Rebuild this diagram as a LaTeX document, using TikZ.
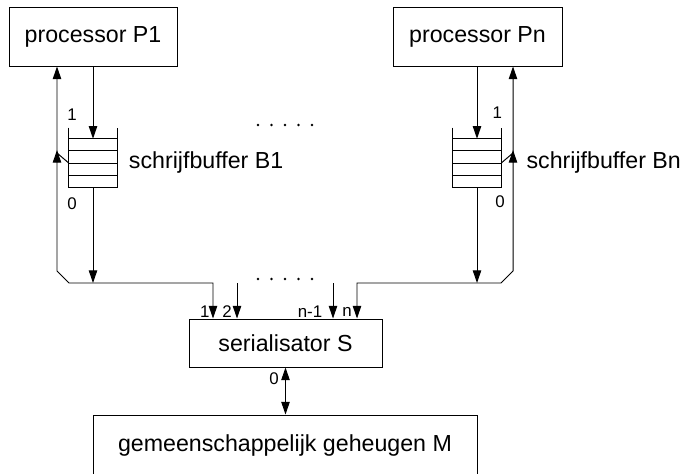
\documentclass[tikz,border=0pt]{standalone}
\usepackage{fontspec}
\setmainfont{Liberation Sans}
\usepackage{tikz}
\usetikzlibrary{calc,arrows.meta}
\usetikzlibrary{positioning}

\begin{document}
\begin{tikzpicture}[
    >={Triangle[length=9pt,width=6pt]},
    box/.style={draw, line width=0.7pt, align=center,
                font=\fontsize{16.5}{19}\selectfont, inner sep=0pt},
    fifo/.style={minimum width=1.2cm, minimum height=1.2cm, inner sep=0pt},
    conn/.style={->, line width=0.7pt},
    wire/.style={line width=0.7pt},
    num/.style={font=\fontsize{12}{14}\selectfont, inner sep=0pt},
    txt/.style={font=\fontsize{16.5}{19}\selectfont, inner sep=1pt, anchor=west}
]
\useasboundingbox (0,0) rectangle (17.15, 11.825);

% =========================================================================
% PROCESSOREN
% =========================================================================
\node[box, minimum width=4.2cm, minimum height=1.475cm] (p1) at (2.325, 10.9125) {processor P1};
\node[box, minimum width=4.225cm, minimum height=1.475cm] (pn) at (11.9375, 10.9125) {processor Pn};

% =========================================================================
% SCHRIJFBUFFERS
% =========================================================================
\node[fifo] (buf1) at (2.325, 7.75) {};
\node[fifo] (bufn) at (11.925, 7.75) {};

\foreach \b in {buf1, bufn}{
    \draw[wire] ([yshift=0.275cm]\b.north west) -- (\b.south west)
        -- (\b.south east) -- ([yshift=0.275cm]\b.north east);
    \foreach \f in {0, 0.25, 0.5, 0.75}{
        \draw[wire] ($(\b.north west)!\f!(\b.south west)$)
            -- ($(\b.north east)!\f!(\b.south east)$);
    }
}

\node[txt, right=0.25cm of buf1] (b1txt) {schrijfbuffer B1};
\node[txt, right=0.59cm of bufn] (bntxt) {schrijfbuffer Bn};

\node[num] (in1) at (1.8, 8.95) {1};
\node[num] (out1) at (1.8, 6.73) {0};
\node[num] (inn) at (12.43, 9.02) {1};
\node[num] (outn) at (12.5, 6.78) {0};

\draw[conn] (p1.south) -- (buf1.north);
\draw[conn] (pn.south -| bufn) -- (bufn.north);

% =========================================================================
% SERIALISATOR EN GEHEUGEN
% =========================================================================
\node[box, minimum width=4.825cm, minimum height=1.2cm] (ser) at (7.1375, 3.25) {serialisator S};
\node[box, minimum width=9.6cm, minimum height=1.5cm] (mem) at (7.125, 0.7) {gemeenschappelijk geheugen M};

% aansluitpunten
\coordinate (s1) at (ser.north -| 5.325, 0);
\coordinate (s2) at (ser.north -| 5.925, 0);
\coordinate (sn1) at (ser.north -| 8.325, 0);
\coordinate (sn) at (ser.north -| 8.925, 0);

\coordinate (busL) at (1.725, 4.75);
\coordinate (retL) at (1.425, 5.05);
\coordinate (busR) at (12.525, 4.75);
\coordinate (retR) at (12.825, 5.05);

\coordinate (tapL) at (1.425, 8.0);
\coordinate (tipL) at (1.425, 8.075);
\coordinate (tapR) at (12.825, 8.0);
\coordinate (tipR) at (12.825, 8.075);

% =========================================================================
% VERBINDINGEN
% =========================================================================
\draw[conn, <->] (s1) -- (s1 |- busL) -- (busL) -- (retL) -- (retL |- p1.south);
\draw[conn, <->] (sn) -- (sn |- busR) -- (busR) -- (retR) -- (retR |- pn.south);

\draw[conn] (buf1.south) -- (buf1.south |- busL);
\draw[conn] (bufn.south) -- (bufn.south |- busR);

\draw[conn] (buf1.west) -- (tapL) -- (tipL);
\draw[conn] (bufn.east) -- (tapR) -- (tipR);

\draw[conn] (s2 |- busL) -- (s2);
\draw[conn] (sn1 |- busL) -- (sn1);

\draw[conn, <->] (ser.south) -- (ser.south |- mem.north);

\node[num] (l1) at (5.12, 4.025) {1};
\node[num] (l2) at (5.675, 4.025) {2};
\node[num] (ln1) at (7.75, 4.025) {n-1};
\node[num] (ln) at (8.675, 4.025) {n};
\node[num] (l0) at (6.85, 2.35) {0};

% puntjes
\foreach \k in {0,...,4}{
    \fill (6.45+\k*0.3375, 8.7) circle (0.035);
    \fill (6.45+\k*0.3375, 4.85) circle (0.035);
}

\end{tikzpicture}
\end{document}
